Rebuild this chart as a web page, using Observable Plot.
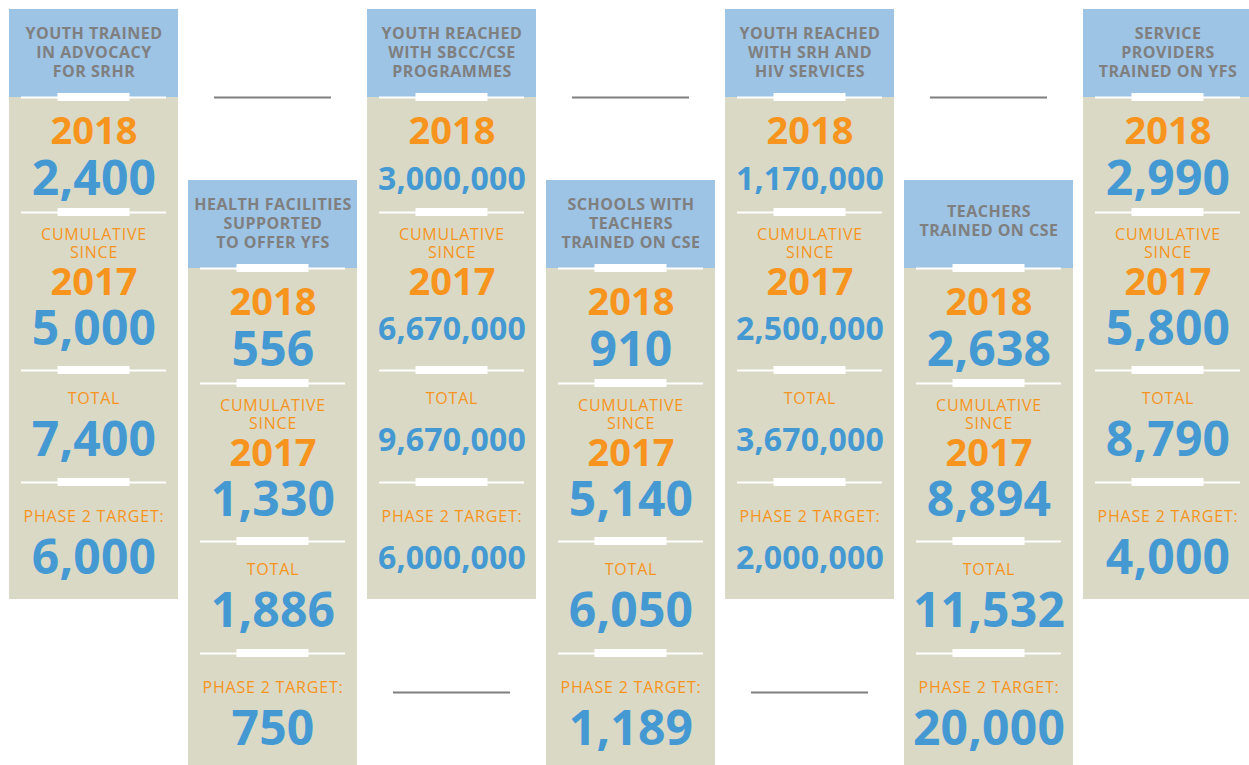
<!DOCTYPE html>
<html>
<head>
<meta charset="utf-8">
<script src="https://cdn.jsdelivr.net/npm/d3@7"></script>
<script src="https://cdn.jsdelivr.net/npm/@observablehq/plot@0.6"></script>
<style>
  html, body { margin: 0; padding: 0; background: #ffffff; }
  #chart svg { display: block; }
</style>
</head>
<body>
<div id="chart"></div>
<script>
// ---- data ----
const titles = [
  ["YOUTH TRAINED", "IN ADVOCACY", "FOR SRHR"],
  ["HEALTH FACILITIES", "SUPPORTED", "TO OFFER YFS"],
  ["YOUTH REACHED", "WITH SBCC/CSE", "PROGRAMMES"],
  ["SCHOOLS WITH", "TEACHERS", "TRAINED ON CSE"],
  ["YOUTH REACHED", "WITH SRH AND", "HIV SERVICES"],
  ["TEACHERS", "TRAINED ON CSE"],
  ["SERVICE", "PROVIDERS", "TRAINED ON YFS"]
];
const values2018 = [2400, 556, 3000000, 910, 1170000, 2638, 2990];
const cumulativeSince2017 = [5000, 1330, 6670000, 5140, 2500000, 8894, 5800];
const totals = [7400, 1886, 9670000, 6050, 3670000, 11532, 8790];
const phase2Targets = [6000, 750, 6000000, 1189, 2000000, 20000, 4000];
const yearLabels = ["2018", "2017"];
const sectionLabels = ["CUMULATIVE", "SINCE", "TOTAL", "PHASE 2 TARGET:"];

// ---- styling ----
const W = 1249, H = 765;
const colW = 169, step = 179, left0 = 9, top0 = 9, stagger = 171;
const headerBlue = "#9dc3e5", bodyBeige = "#d9d9c6", orange = "#f7941d", blue = "#4499d3", grey = "#7f7f7f";
const font = "Open Sans";
const fmt = d3.format(",");

const cols = titles.map((t, i) => {
  const x0 = left0 + i * step;
  const top = top0 + (i % 2 ? stagger : 0);
  return {i, x0, cx: x0 + colW / 2, top};
});

const panels = [];
cols.forEach(c => {
  panels.push({x1: c.x0, x2: c.x0 + colW, y1: c.top + 88, y2: c.top + 590, fill: bodyBeige});
  panels.push({x1: c.x0, x2: c.x0 + colW, y1: c.top, y2: c.top + 88, fill: headerBlue});
});

const sepRel = [88, 203, 361, 473];
const thinLines = [], thickBars = [];
cols.forEach(c => sepRel.forEach(r => {
  thinLines.push({x1: c.x0 + 12, x2: c.x0 + 157, y: c.top + r});
  thickBars.push({x1: c.cx - 36, x2: c.cx + 36, y1: c.top + r - 4, y2: c.top + r + 4});
}));

// decorative grey rules in the gaps
const greyLines = [];
cols.forEach(c => {
  if (c.i % 2) greyLines.push({x1: c.x0 + 26, x2: c.x0 + 143, y: top0 + 88});
  else if (c.i > 0 && c.i < cols.length - 1) greyLines.push({x1: c.x0 + 26, x2: c.x0 + 143, y: top0 + 683});
});

const headerRows = [];
cols.forEach(c => {
  const lines = titles[c.i];
  const start = lines.length === 3 ? 24 : 31;
  lines.forEach((s, k) => headerRows.push({x: c.cx, y: c.top + start + k * 19, text: s}));
});

const yearRows = [], smallRows = [], valueRows = [];
cols.forEach(c => {
  yearRows.push({x: c.cx, y: c.top + 122, text: yearLabels[0]});
  yearRows.push({x: c.cx, y: c.top + 273, text: yearLabels[1]});
  smallRows.push({x: c.cx, y: c.top + 225, text: sectionLabels[0]});
  smallRows.push({x: c.cx, y: c.top + 243, text: sectionLabels[1]});
  smallRows.push({x: c.cx, y: c.top + 389, text: sectionLabels[2]});
  smallRows.push({x: c.cx, y: c.top + 507, text: sectionLabels[3]});
  [[values2018, 170], [cumulativeSince2017, 320], [totals, 431], [phase2Targets, 549]].forEach(([arr, r]) => {
    const v = arr[c.i];
    valueRows.push({x: c.cx, y: c.top + r, text: fmt(v), size: v >= 1000000 ? 32 : 48});
  });
});

const chart = Plot.plot({
  width: W, height: H,
  margin: 0,
  x: {domain: [0, W], range: [0, W], axis: null},
  y: {domain: [0, H], range: [0, H], axis: null},
  style: {background: "#ffffff"},
  marks: [
    Plot.rect(panels, {x1: "x1", x2: "x2", y1: "y1", y2: "y2", fill: "fill"}),
    Plot.ruleY(thinLines, {x1: "x1", x2: "x2", y: "y", stroke: "#ffffff", strokeWidth: 2}),
    Plot.rect(thickBars, {x1: "x1", x2: "x2", y1: "y1", y2: "y2", fill: "#ffffff"}),
    Plot.ruleY(greyLines, {x1: "x1", x2: "x2", y: "y", stroke: grey, strokeWidth: 2}),
    Plot.text(headerRows, {x: "x", y: "y", text: "text", fill: grey, fontSize: 16, fontWeight: 700, fontFamily: font}),
    Plot.text(yearRows, {x: "x", y: "y", text: "text", fill: orange, fontSize: 38, fontWeight: 700, fontFamily: font}),
    Plot.text(smallRows, {x: "x", y: "y", text: "text", fill: orange, fontSize: 16, fontWeight: 400, fontFamily: font}),
    Plot.text(valueRows, {x: "x", y: "y", text: "text", fill: blue, fontSize: "size", fontWeight: 700, fontFamily: font})
  ]
});
// slight tracking to match the wider typeface of the original
const textGroups = chart.querySelectorAll('g[aria-label="text"]');
if (textGroups[0]) textGroups[0].style.letterSpacing = "0.5px";
if (textGroups[2]) textGroups[2].style.letterSpacing = "0.8px";
if (textGroups[3]) textGroups[3].style.letterSpacing = "0.2px";
document.getElementById("chart").appendChild(chart);
</script>
</body>
</html>
